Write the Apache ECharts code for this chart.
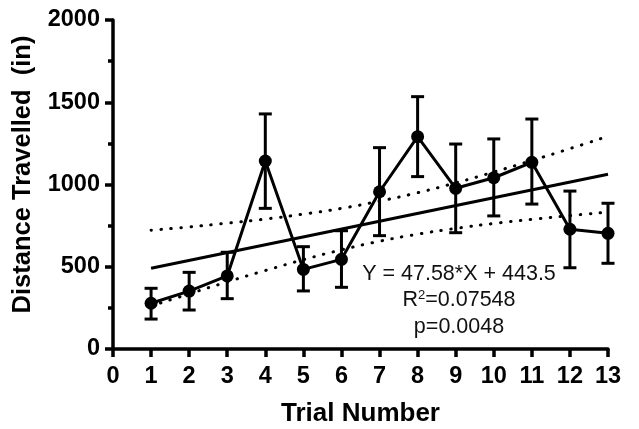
<!DOCTYPE html>
<html>
<head>
<meta charset="utf-8">
<script src="https://cdn.jsdelivr.net/npm/echarts@6/dist/echarts.min.js"></script>
<style>
html,body{margin:0;padding:0;background:#fff;}
#chart{width:639px;height:429px;}
</style>
</head>
<body>
<div id="chart"></div>
<script>
const trials = [1, 2, 3, 4, 5, 6, 7, 8, 9, 10, 11, 12, 13];
const means = [278, 352, 444, 1143, 484, 545, 956, 1291, 977, 1041, 1135, 728, 703];
const errLow = [182, 237, 306, 855, 353, 375, 689, 1048, 707, 809, 881, 494, 521];
const errHigh = [369, 466, 588, 1429, 622, 719, 1224, 1534, 1246, 1277, 1398, 960, 886];

const fitX = [1, 13];
const fitY = [491.1, 1062.0];

const bandX = [1, 2, 3, 4, 5, 6, 7, 8, 9, 10, 11, 12, 13];
const bandUpper = [722, 742, 765, 790, 820, 855, 899, 950, 1010, 1076, 1146, 1218, 1293];
const bandLower = [261, 335, 408, 477, 543, 603, 655, 698, 733, 763, 788, 811, 832];

const xTicks = [0, 13, 1];
const yTicks = [0, 2000, 500];

const eqLines = ['Y = 47.58*X + 443.5', 'R2=0.07548', 'p=0.0048'];

const FONT = "'Liberation Sans', Arial, Helvetica, sans-serif";
const chart = echarts.init(document.getElementById('chart'));

const zip = (a, b) => a.map((v, i) => [v, b[i]]);

const option = {
  animation: false,
  backgroundColor: '#fff',
  grid: { left: 113, right: 31, top: 20, bottom: 80, containLabel: false, outerBoundsMode: 'none' },
  xAxis: {
    type: 'value', min: xTicks[0], max: xTicks[1], interval: xTicks[2],
    name: 'Trial Number', nameLocation: 'middle', nameGap: 52,
    nameTextStyle: { fontFamily: FONT, fontWeight: 'bold', fontSize: 26, color: '#000' },
    axisLine: { show: true, onZero: false, lineStyle: { color: '#000', width: 3.5 } },
    axisTick: { show: true, length: 8, lineStyle: { color: '#000', width: 3.5 } },
    axisLabel: { margin: 16, fontFamily: FONT, fontWeight: 'bold', fontSize: 23.5, color: '#000' },
    splitLine: { show: false }
  },
  yAxis: {
    type: 'value', min: yTicks[0], max: yTicks[1], interval: yTicks[2],
    name: 'Distance Travelled  (in)', nameLocation: 'middle', nameGap: 77,
    nameTextStyle: { fontFamily: FONT, fontWeight: 'bold', fontSize: 25.5, color: '#000', padding: [0, 0, 0, 20] },
    axisLine: { show: true, onZero: false, lineStyle: { color: '#000', width: 3.5 } },
    axisTick: { show: true, length: 8, lineStyle: { color: '#000', width: 3.5 } },
    minorTick: { show: true, splitNumber: 2, length: 5, lineStyle: { color: '#000', width: 3.5 } },
    axisLabel: { margin: 13, fontFamily: FONT, fontWeight: 'bold', fontSize: 23.5, color: '#000',
      formatter: function (v) { return String(v); } },
    splitLine: { show: false },
    minorSplitLine: { show: false }
  },
  series: [
    {
      type: 'line', data: zip(bandX, bandUpper), smooth: true, symbol: 'none',
      lineStyle: { color: '#000', width: 3, type: [0.5, 9.5], cap: 'round' }, z: 2
    },
    {
      type: 'line', data: zip(bandX, bandLower), smooth: true, symbol: 'none',
      lineStyle: { color: '#000', width: 3, type: [0.5, 9.5], cap: 'round' }, z: 2
    },
    {
      type: 'line', data: zip(fitX, fitY), symbol: 'none',
      lineStyle: { color: '#000', width: 3 }, z: 3
    },
    {
      type: 'custom', z: 4, clip: false,
      data: trials.map((t, i) => [t, errLow[i], errHigh[i]]),
      renderItem: function (params, api) {
        const x = api.value(0);
        const pLo = api.coord([x, api.value(1)]);
        const pHi = api.coord([x, api.value(2)]);
        const w = 6.5;
        const st = { stroke: '#000', lineWidth: 3 };
        return {
          type: 'group', children: [
            { type: 'line', shape: { x1: pHi[0], y1: pHi[1], x2: pLo[0], y2: pLo[1] }, style: st },
            { type: 'line', shape: { x1: pHi[0] - w, y1: pHi[1], x2: pHi[0] + w, y2: pHi[1] }, style: st },
            { type: 'line', shape: { x1: pLo[0] - w, y1: pLo[1], x2: pLo[0] + w, y2: pLo[1] }, style: st }
          ]
        };
      }
    },
    {
      type: 'line', data: zip(trials, means), symbol: 'circle', symbolSize: 13,
      itemStyle: { color: '#000' }, lineStyle: { color: '#000', width: 3 }, z: 5
    }
  ],
  graphic: [
    { type: 'text', x: 459, y: 274, style: { text: eqLines[0], font: '21.5px ' + FONT, fill: '#111', align: 'center', verticalAlign: 'middle' } },
    { type: 'text', x: 459, y: 300, style: {
        text: '{r|R}{s|2}{r|=0.07548}', align: 'center', verticalAlign: 'middle', fill: '#111',
        rich: { r: { fontSize: 21.5, fontFamily: FONT, fill: '#111', lineHeight: 22 }, s: { fontSize: 13, fontFamily: FONT, fill: '#111', verticalAlign: 'top', lineHeight: 22 } }
    } },
    { type: 'text', x: 459, y: 327, style: { text: eqLines[2], font: '21.5px ' + FONT, fill: '#111', align: 'center', verticalAlign: 'middle' } }
  ]
};
chart.setOption(option);
</script>
</body>
</html>
